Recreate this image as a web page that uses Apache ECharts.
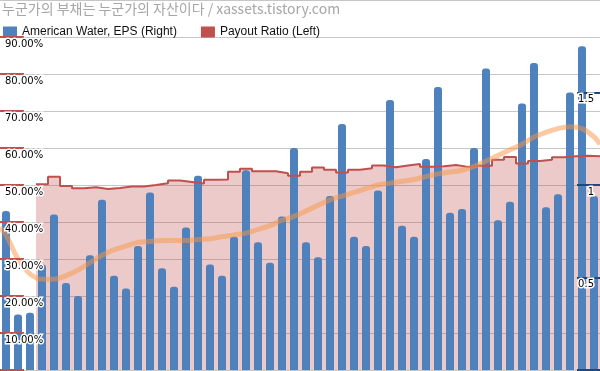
<!DOCTYPE html>
<html>
<head>
<meta charset="utf-8">
<script src="https://cdn.jsdelivr.net/npm/echarts@6/dist/echarts.min.js"></script>
<style>
html,body{margin:0;padding:0;background:#fff;}
#c{width:600px;height:371px;}
</style>
</head>
<body>
<div id="c"></div>
<script>
// ---- data ----
var titleText = '누군가의 부채는 누군가의 자산이다 / xassets.tistory.com';
var legendNames = ['American Water, EPS (Right)', 'Payout Ratio (Left)'];
// EPS per period (right axis)
var eps = [0.86,0.30,0.31,0.57,0.84,0.47,0.40,0.62,0.92,0.51,
           0.44,0.67,0.96,0.55,0.45,0.77,1.05,0.57,0.51,0.72,
           1.08,0.69,0.58,0.83,1.20,0.69,0.61,0.94,1.33,0.72,
           0.67,0.97,1.46,0.78,0.72,1.14,1.53,0.85,0.87,1.20,
           1.63,0.81,0.91,1.44,1.66,0.88,0.95,1.50,1.75,0.94];
// Payout ratio % (left axis), no value for the first three periods
var payout = [null,null,null,50.2,52.2,49.7,49.1,49.4,48.9,49.2,
              49.6,49.6,50.0,50.5,51.2,50.8,50.4,51.4,51.5,53.6,
              54.4,53.7,53.7,53.2,52.5,53.6,54.7,54.1,53.4,54.1,
              54.5,55.3,54.8,55.3,55.7,54.9,55.1,55.4,54.9,55.3,
              55.2,56.8,57.6,55.8,56.5,56.8,57.5,57.8,57.9,57.8];
// smooth EPS trend (right axis) at each period, plus the two edge values
var trend = [0.73,0.60,0.52,0.49,0.49,0.51,0.54,0.58,0.62,0.65,
             0.67,0.69,0.695,0.70,0.70,0.70,0.705,0.71,0.72,0.73,
             0.74,0.76,0.78,0.81,0.83,0.86,0.89,0.92,0.94,0.96,
             0.98,1.00,1.01,1.02,1.03,1.045,1.06,1.07,1.08,1.10,
             1.13,1.16,1.19,1.22,1.26,1.285,1.305,1.315,1.305,1.26];
var trendStart = 0.77, trendEnd = 1.22;
var leftTicks = [0,10,20,30,40,50,60,70,80,90];
var leftLabels = [10,20,30,40,50,60,70,80,90];
var rightTicks = [0,0.5,1,1.5];
var rightLabels = [0.5,1,1.5];

// ---- build series data ----
var cats = eps.map(function(_, i){ return 'P' + (i + 1); });
var payoutPts = [];
payout.forEach(function(v, i){ if (v != null) payoutPts.push([i, v]); });
payoutPts.push([payout.length, payout[payout.length - 1]]);
var trendPts = [[0, trendStart]];
trend.forEach(function(v, i){ trendPts.push([i + 0.5, v]); });
trendPts.push([trend.length, trendEnd]);

var labelFont = 'DejaVu Sans';
var chart = echarts.init(document.getElementById('c'), null, {renderer: 'canvas'});
chart.setOption({
  animation: false,
  backgroundColor: '#fff',
  title: {
    text: titleText, left: 0, top: 0, padding: [2, 0, 0, 2],
    textStyle: {fontFamily: 'Noto Sans CJK KR', fontSize: 14, fontWeight: 'normal', color: '#a6a6a6'}
  },
  legend: {
    data: legendNames, left: 3, top: 26, padding: 0, itemGap: 24,
    itemWidth: 14, itemHeight: 11, icon: 'rect',
    textStyle: {fontFamily: 'Liberation Sans', fontSize: 12, color: '#111'}
  },
  grid: {left: 0, right: 0, top: 0, bottom: 1, containLabel: false},
  xAxis: [
    {type: 'category', data: cats, boundaryGap: true, show: false},
    {type: 'value', min: 0, max: eps.length, show: false}
  ],
  yAxis: [
    {type: 'value', position: 'left', min: 0, max: 100, interval: 10,
     axisLine: {show: false}, axisTick: {show: false}, axisLabel: {show: false},
     splitLine: {show: true, lineStyle: {color: '#c6c6c6', width: 1}}},
    {type: 'value', position: 'right', min: 0, max: 2, interval: 0.5, z: 10,
     axisLine: {show: false}, splitLine: {show: false},
     axisTick: {show: true, inside: true, length: 23, customValues: rightTicks,
       lineStyle: {color: '#1F497D', width: 2}},
     axisLabel: {inside: true, margin: 6, verticalAlign: 'top', padding: [2, 0, 0, 0],
       customValues: rightLabels,
       fontFamily: labelFont, fontSize: 10, color: '#000', textBorderColor: '#fff', textBorderWidth: 3,
       formatter: function(v){ return String(v); }}},
    {type: 'value', position: 'left', min: 0, max: 100, interval: 10, z: 10,
     axisLine: {show: false}, splitLine: {show: false},
     axisTick: {show: true, inside: true, length: 24, customValues: leftTicks,
       lineStyle: {color: '#C0504D', width: 2}},
     axisLabel: {inside: true, margin: 5, verticalAlign: 'top', padding: [2, 0, 0, 0],
       customValues: leftLabels,
       fontFamily: labelFont, fontSize: 10, color: '#000', textBorderColor: '#fff', textBorderWidth: 3,
       formatter: function(v){ return Number(v).toFixed(2) + '%'; }}}
  ],
  series: [
    {name: legendNames[1], type: 'line', xAxisIndex: 1, yAxisIndex: 0, data: payoutPts,
     step: 'end', symbol: 'none', z: 1,
     lineStyle: {width: 0, opacity: 0}, itemStyle: {color: '#C0504D'},
     areaStyle: {color: 'rgba(192,80,77,0.3)', opacity: 1, origin: 'start'}},
    {name: legendNames[0], type: 'bar', xAxisIndex: 0, yAxisIndex: 1, data: eps,
     barWidth: 8, z: 2, itemStyle: {color: '#4F81BD', borderRadius: [3, 3, 0, 0]}},
    {name: legendNames[1], type: 'line', xAxisIndex: 1, yAxisIndex: 0, data: payoutPts,
     step: 'end', symbol: 'none', z: 3,
     lineStyle: {width: 2, color: '#C0504D'}, itemStyle: {color: '#C0504D'}},
    {name: 'trend', type: 'line', xAxisIndex: 1, yAxisIndex: 1, data: trendPts,
     smooth: 0.4, symbol: 'none', z: 4,
     lineStyle: {width: 5, color: 'rgba(247,150,70,0.5)'}, itemStyle: {color: 'rgba(247,150,70,0.5)'}}
  ]
});
</script>
</body>
</html>
